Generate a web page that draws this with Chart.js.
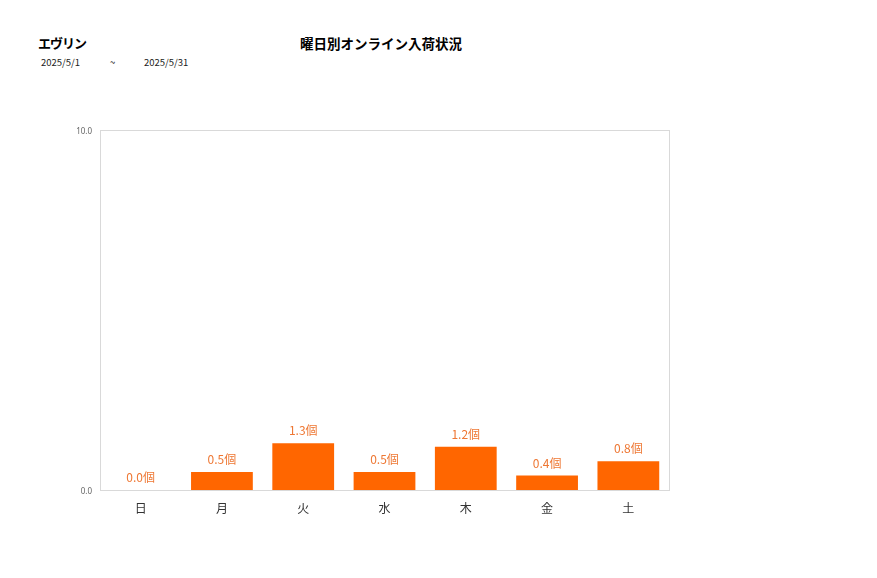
<!DOCTYPE html>
<html>
<head>
<meta charset="utf-8">
<script src="https://cdn.jsdelivr.net/npm/chart.js@4"></script>
<style>
  html, body { margin:0; padding:0; background:#fff; }
  body { width:877px; height:578px; position:relative; overflow:hidden; font-family:"Noto Sans CJK JP","Noto Sans",sans-serif; }
  .t { position:absolute; white-space:nowrap; color:#000; }
  #wrap { position:absolute; left:0; top:0; width:877px; height:578px; }
</style>
</head>
<body>
<div class="t" style="left:38px; top:33px; font-size:13px; font-weight:bold; letter-spacing:-1px;">エヴリン</div>
<div class="t" style="left:300px; top:33px; font-size:13.5px; font-weight:bold;">曜日別オンライン入荷状況</div>
<div class="t" style="left:41px; top:55px; font-size:9.5px; color:#222;">2025/5/1</div>
<div class="t" style="left:110px; top:55px; font-size:9.5px; color:#222;">~</div>
<div class="t" style="left:144px; top:55px; font-size:9.5px; color:#222;">2025/5/31</div>
<div id="wrap"><canvas id="c" width="877" height="578"></canvas></div>
<script>
const categories = ["日", "月", "火", "水", "木", "金", "土"];
const values = [0.0, 0.5, 1.3, 0.5, 1.2, 0.4, 0.8];
const yTicks = [0, 10];
const unit = "個";

const boxPlugin = {
  id: 'box',
  beforeDatasetsDraw(chart) {
    const a = chart.chartArea, ctx = chart.ctx;
    ctx.save();
    ctx.strokeStyle = '#d9d9d9';
    ctx.lineWidth = 1;
    ctx.strokeRect(Math.round(a.left) + 0.5, Math.round(a.top) + 0.5, Math.round(a.right - a.left), Math.round(a.bottom - a.top));
    ctx.restore();
  }
};
const labelPlugin = {
  id: 'vlabels',
  afterDatasetsDraw(chart) {
    const ctx = chart.ctx;
    const meta = chart.getDatasetMeta(0);
    ctx.save();
    ctx.font = '12px "Noto Sans CJK JP", sans-serif';
    ctx.fillStyle = '#ee7733';
    ctx.textAlign = 'center';
    ctx.textBaseline = 'middle';
    meta.data.forEach((bar, i) => {
      ctx.fillText(values[i].toFixed(1) + unit, bar.x, bar.y - 12.5);
    });
    ctx.restore();
  }
};

new Chart(document.getElementById('c'), {
  type: 'bar',
  data: {
    labels: categories,
    datasets: [{
      data: values,
      backgroundColor: '#ff6600',
      borderWidth: 0,
      barPercentage: 0.76,
      categoryPercentage: 1.0
    }]
  },
  options: {
    responsive: false,
    animation: false,
    devicePixelRatio: 1,
    layout: { padding: { left: 60, right: 208, top: 130, bottom: 58 } },
    plugins: { legend: { display: false }, tooltip: { enabled: false }, title: { display: false } },
    scales: {
      x: {
        grid: { display: false },
        border: { display: false },
        ticks: { color: '#333', font: { size: 12, family: '"Noto Sans CJK JP", sans-serif' }, padding: 3 },
        afterFit(s) { s.height = 30; }
      },
      y: {
        min: 0, max: 10,
        afterBuildTicks(s) { s.ticks = yTicks.map(v => ({ value: v })); },
        grid: { display: false },
        border: { display: false },
        ticks: { color: '#666', font: { size: 8, family: '"Noto Sans", sans-serif' }, padding: 0, labelOffset: 2,
                 callback: v => Number(v).toFixed(1) },
        afterFit(s) { s.width = 40; }
      }
    }
  },
  plugins: [boxPlugin, labelPlugin]
});
</script>
</body>
</html>
